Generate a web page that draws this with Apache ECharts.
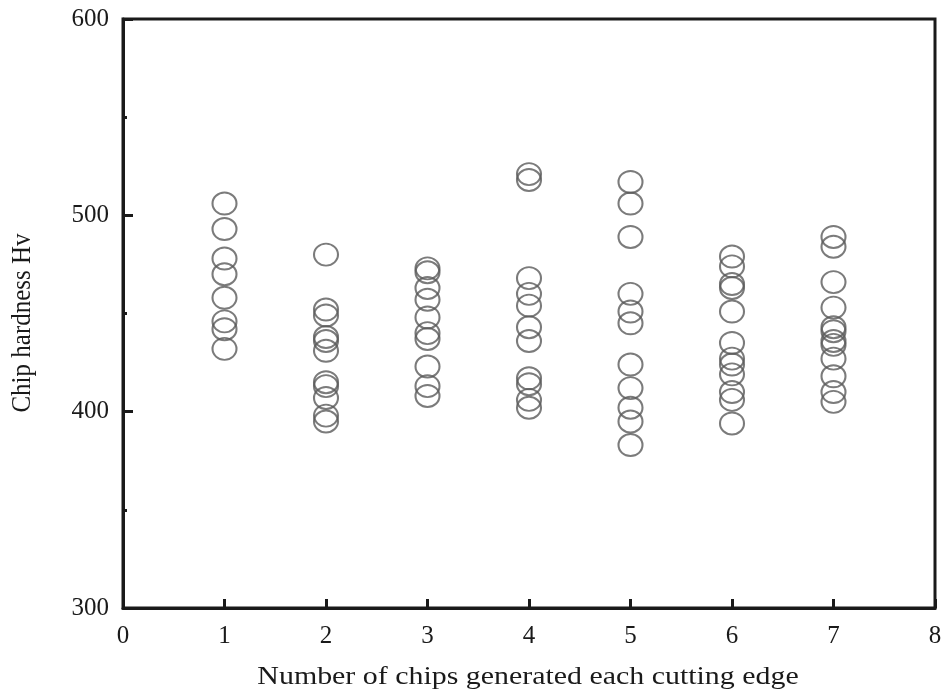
<!DOCTYPE html>
<html>
<head>
<meta charset="utf-8">
<script src="https://cdn.jsdelivr.net/npm/echarts@6/dist/echarts.min.js"></script>
<style>
  html, body { margin: 0; padding: 0; background: #fff; }
  #chart { width: 944px; height: 693px; }
</style>
</head>
<body>
<div id="chart"></div>
<script>
// Chip hardness (Hv) measured for each chip number along a cutting edge
const chipNumbers = [1, 2, 3, 4, 5, 6, 7];
const hardness1 = [506, 493, 478, 470, 458, 446, 442, 432];
const hardness2 = [480, 452, 449, 438, 436, 431, 415, 413, 407, 398, 395];
const hardness3 = [473, 471, 463, 457, 448, 440, 437, 423, 413, 408];
const hardness4 = [521, 518, 468, 460, 454, 443, 436, 417, 414, 406, 402];
const hardness5 = [517, 506, 489, 460, 451, 445, 424, 412, 402, 395, 383];
const hardness6 = [479, 474, 465, 463, 451, 435, 427, 424, 419, 410, 406, 394];
const hardness7 = [489, 484, 466, 453, 443, 441, 436, 434, 427, 418, 410, 405];
const hardnessByChip = [hardness1, hardness2, hardness3, hardness4, hardness5, hardness6, hardness7];

const xTicks = [0, 1, 2, 3, 4, 5, 6, 7, 8];
const yTicks = [300, 400, 500, 600];
const xTitle = 'Number of chips generated each cutting edge';
const yTitle = 'Chip hardness Hv';

const points = [];
chipNumbers.forEach((n, i) => {
  hardnessByChip[i].forEach(v => points.push([n, v]));
});

const font = '"Liberation Serif", "Times New Roman", serif';
const ink = '#1a1a1a';
const chart = echarts.init(document.getElementById('chart'));
chart.setOption({
  animation: false,
  backgroundColor: '#fff',
  grid: {
    left: 123, right: 9, top: 19, bottom: 85,
    outerBoundsMode: 'none',
    show: true, borderColor: ink, borderWidth: 3, backgroundColor: 'transparent'
  },
  // axis titles drawn as text elements so the wide serif lettering can be stretched
  graphic: [
    {
      type: 'text', x: 528, y: 677, scaleX: 1.15,
      style: { text: xTitle, font: '26px ' + font, fill: ink, align: 'center', verticalAlign: 'middle' }
    },
    {
      type: 'text', x: 23, y: 323, rotation: Math.PI / 2, scaleY: 1.1,
      style: { text: yTitle, font: '25px ' + font, fill: ink, align: 'center', verticalAlign: 'middle' }
    }
  ],
  xAxis: {
    type: 'value',
    min: xTicks[0], max: xTicks[xTicks.length - 1], interval: 1,
    axisLine: { show: true, lineStyle: { color: ink, width: 3 } },
    axisTick: { show: true, inside: true, length: 9, lineStyle: { color: ink, width: 3 } },
    axisLabel: { fontFamily: font, fontSize: 25, color: ink, margin: 16 },
    splitLine: { show: false }
  },
  yAxis: {
    type: 'value',
    min: yTicks[0], max: yTicks[yTicks.length - 1], interval: 100,
    axisLine: { show: true, lineStyle: { color: ink, width: 3 } },
    axisTick: { show: true, inside: true, length: 10, lineStyle: { color: ink, width: 3 } },
    minorTick: { show: true, splitNumber: 2, length: 4, lineStyle: { color: ink, width: 3 } },
    axisLabel: { fontFamily: font, fontSize: 25, color: ink, margin: 14 },
    splitLine: { show: false }
  },
  series: [{
    type: 'scatter',
    data: points,
    symbol: 'circle',
    symbolSize: [24, 22],
    itemStyle: { color: 'transparent', borderColor: '#5a5a5a', borderWidth: 2 }
  }]
});
</script>
</body>
</html>
